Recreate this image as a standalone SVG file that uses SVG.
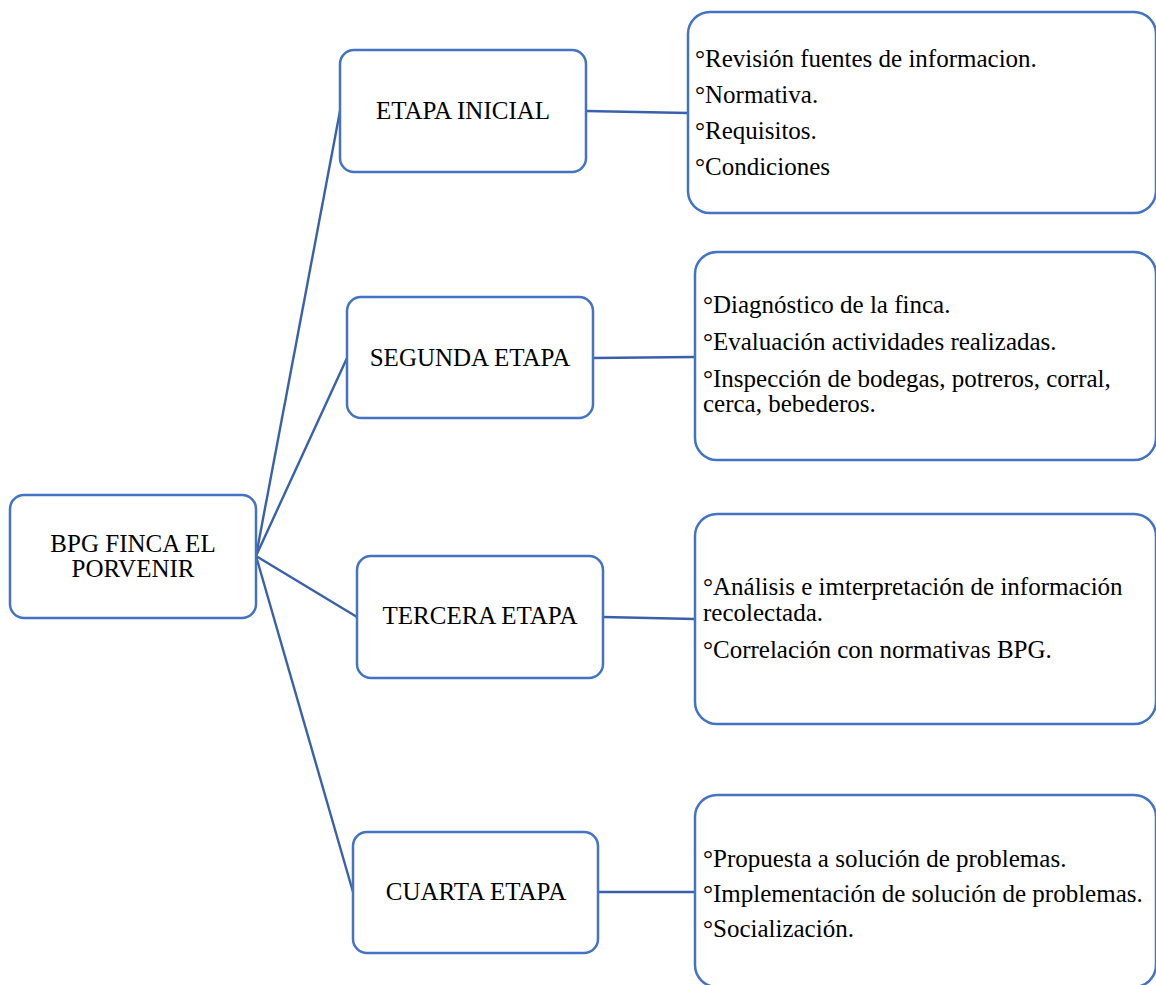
<svg xmlns="http://www.w3.org/2000/svg" width="1156" height="985" viewBox="0 0 1156 985">
<style>
.box{fill:#ffffff;stroke:#4472C4;stroke-width:2.5}
.ln{stroke:#3A60AC;stroke-width:2.4;fill:none}
text{font-family:"Liberation Serif","Times New Roman",serif;font-size:25px;fill:#000000}
.c{text-anchor:middle}
</style>
<rect width="1156" height="985" fill="#ffffff"/>
<g id="connectors">
<line class="ln" x1="256" y1="556" x2="340" y2="111"/>
<line class="ln" x1="256" y1="556" x2="347" y2="358"/>
<line class="ln" x1="256" y1="556" x2="357" y2="617"/>
<line class="ln" x1="256" y1="556" x2="353" y2="892"/>
<line class="ln" x1="586" y1="111" x2="688" y2="113"/>
<line class="ln" x1="593" y1="358" x2="695" y2="357"/>
<line class="ln" x1="603" y1="617" x2="695" y2="619"/>
<line class="ln" x1="598" y1="892" x2="695" y2="892"/>
</g>
<g id="root">
<rect class="box" x="10" y="495" width="246" height="123" rx="14"/>
<text class="c" x="133" y="552">BPG FINCA EL</text>
<text class="c" x="133" y="577">PORVENIR</text>
</g>
<g id="etapa-inicial">
<rect class="box" x="340" y="50" width="246" height="122" rx="14"/>
<text class="c" x="463" y="119">ETAPA INICIAL</text>
</g>
<g id="segunda-etapa">
<rect class="box" x="347" y="297" width="246" height="121" rx="14"/>
<text class="c" x="470" y="366">SEGUNDA ETAPA</text>
</g>
<g id="tercera-etapa">
<rect class="box" x="357" y="556" width="246" height="122" rx="14"/>
<text class="c" x="480" y="624">TERCERA ETAPA</text>
</g>
<g id="cuarta-etapa">
<rect class="box" x="353" y="832" width="245" height="121" rx="14"/>
<text class="c" x="476" y="900">CUARTA ETAPA</text>
</g>
<g id="detalle-inicial">
<rect class="box" x="688" y="12" width="468" height="201" rx="22"/>
<text x="695" y="67">°Revisión fuentes de informacion.</text>
<text x="695" y="103">°Normativa.</text>
<text x="695" y="139">°Requisitos.</text>
<text x="695" y="175">°Condiciones</text>
</g>
<g id="detalle-segunda">
<rect class="box" x="695" y="252" width="461" height="208" rx="22"/>
<text x="703" y="313">°Diagnóstico de la finca.</text>
<text x="703" y="350">°Evaluación actividades realizadas.</text>
<text x="703" y="387">°Inspección de bodegas, potreros, corral,</text>
<text x="703" y="412">cerca, bebederos.</text>
</g>
<g id="detalle-tercera">
<rect class="box" x="695" y="514" width="461" height="210" rx="22"/>
<text x="703" y="595">°Análisis e imterpretación de información</text>
<text x="703" y="621">recolectada.</text>
<text x="703" y="658">°Correlación con normativas BPG.</text>
</g>
<g id="detalle-cuarta">
<rect class="box" x="695" y="795" width="461" height="192" rx="22"/>
<text x="703" y="867">°Propuesta a solución de problemas.</text>
<text x="703" y="902">°Implementación de solución de problemas.</text>
<text x="703" y="937">°Socialización.</text>
</g>
</svg>
